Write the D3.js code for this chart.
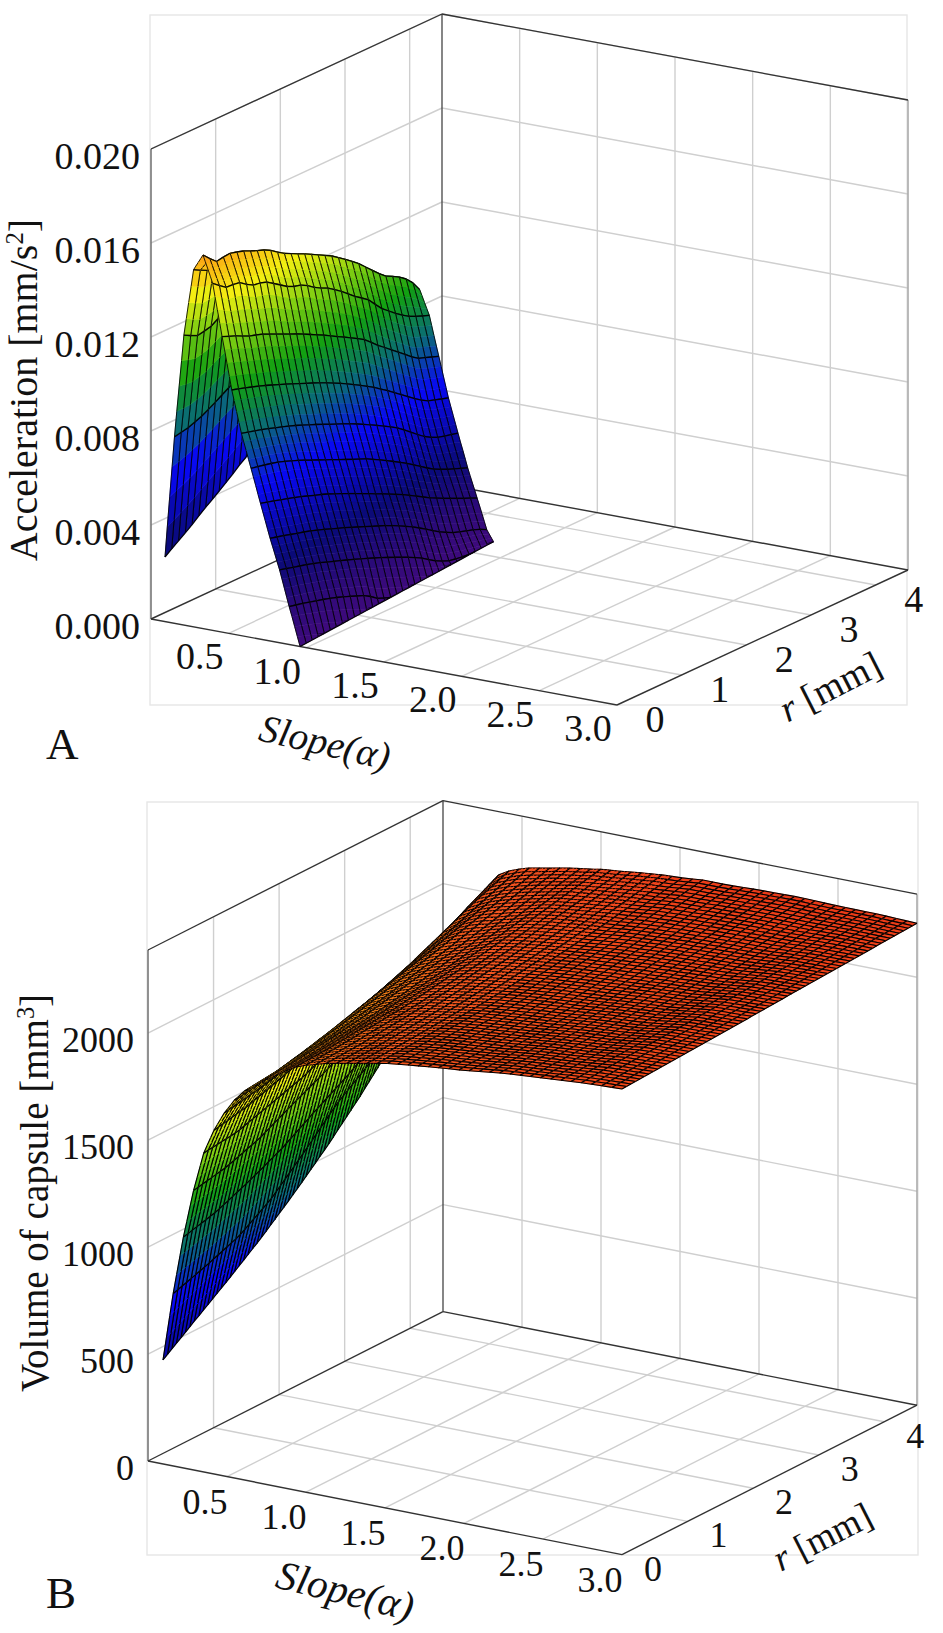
<!DOCTYPE html>
<html><head><meta charset="utf-8">
<script src="https://cdn.jsdelivr.net/npm/d3@7/dist/d3.min.js"></script>
<style>html,body{margin:0;padding:0;background:#fff}svg{display:block}
text{font-family:"Liberation Serif","Times New Roman",serif;fill:#111}</style></head>
<body><svg id="c" width="943" height="1633"></svg>
<script>
// ---------- Panel A: acceleration (x 10^-3 mm/s^2), rows = slope, columns = r ----------
const alphaA = [0.09,0.151,0.212,0.274,0.335,0.397,0.458,0.520,0.582,0.644,0.705,0.767,0.828,0.890];
const radiusA = [0,0.2,0.4,0.6,0.8,1,1.2,1.4,1.6,1.8,2,2.2,2.4,2.6,2.8,3,3.2,3.35];
const edgeAlphaA = [0.96,0.951,0.942,0.933,0.924,0.915,0.906,0.897,0.888,0.879,0.870,0.861,0.852,0.843,0.834,0.825,0.816,0.81];
const accelA = [
[2.75,3.15,3.55,4.0,4.4,4.83,5.3,5.65,6.0,6.3,6.6,6.9,7.2,7.45,7.7,7.9,8.1,8.2],
[7.94,8.05,8.25,8.55,8.9,9.2,9.5,9.8,10.0,10.2,10.4,10.5,10.5,10.2,9.8,9.4,9.0,8.6],
[12.34,12.05,12.15,12.5,12.7,12.8,12.8,12.7,12.5,12.3,12.0,11.6,11.2,10.8,10.4,10.1,9.8,9.5],
[15.2,14.9,14.9,14.9,14.7,14.4,14.1,13.9,13.6,13.3,13.0,12.6,12.2,11.7,11.2,10.8,10.5,10.0],
[15.9,15.35,15.45,15.3,15.05,14.85,14.45,14.16,13.9,13.6,13.3,12.9,12.48,11.95,11.43,11.15,10.75,10.15],
[14.77,14.33,14.3,13.9,13.82,13.45,13.07,12.93,12.53,12.26,11.87,11.4,11.02,10.39,9.94,9.53,9.28,9.13],
[12.57,12.35,12.08,11.91,11.66,11.40,11.16,10.87,10.59,10.27,9.97,9.64,9.15,8.71,8.27,7.81,7.61,7.46],
[10.38,10.21,10.03,9.82,9.60,9.37,9.14,8.90,8.63,8.34,8.02,7.68,7.29,6.88,6.45,6.08,5.89,5.77],
[8.61,8.46,8.29,8.11,7.92,7.69,7.46,7.21,6.97,6.71,6.42,6.11,5.79,5.36,4.91,4.59,4.44,4.34],
[7.20,7.08,6.94,6.75,6.52,6.27,6.03,5.78,5.54,5.30,5.00,4.68,4.35,3.97,3.59,3.32,3.10,2.94],
[5.78,5.63,5.46,5.29,5.09,4.90,4.66,4.41,4.15,3.89,3.62,3.34,3.03,2.70,2.42,2.16,1.91,1.73],
[4.37,4.22,4.06,3.91,3.72,3.51,3.30,3.07,2.84,2.61,2.35,2.05,1.70,1.33,1.03,0.84,0.67,0.46],
[3.10,2.95,2.80,2.63,2.43,2.23,2.03,1.81,1.58,1.34,1.08,0.79,0.42,0.15,0.05,null,null,null],
[1.61,1.49,1.34,1.19,1.00,0.78,0.55,0.15,null,null,null,null,null,null,null,null,null,null]];

// ---------- Panel B: capsule volume (mm^3), rows = slope, columns = r ----------
const alphaB = [0.095,0.16,0.224,0.289,0.353,0.418,0.482,0.547,0.611,0.676,0.74,0.805,0.869,0.934,1.0,1.13,1.26,1.39,1.52,1.65,1.8,2.0,2.25,2.5,2.75,3.0];
const radiusB = [0,0.5,1,1.5,2,2.5,3,3.5,4,4.5];
const volumeB = [
[486,598,708,825,955,1095,1250,1420,1595,1770],
[808,860,920,1020,1160,1308,1420,1560,1720,1880],
[1079,1120,1185,1260,1355,1445,1550,1650,1755,1860],
[1308,1340,1395,1475,1550,1640,1730,1830,1930,2026],
[1491,1510,1560,1610,1680,1750,1830,1920,2010,2092],
[1607,1640,1690,1745,1800,1860,1920,1990,2060,2120],
[1696,1725,1765,1810,1860,1910,1965,2020,2080,2138],
[1766,1790,1825,1865,1910,1955,2000,2050,2100,2153],
[1818,1835,1865,1900,1940,1980,2025,2070,2115,2162],
[1850,1868,1895,1925,1960,2000,2040,2085,2128,2171],
[1888,1905,1925,1950,1985,2020,2055,2095,2140,2181],
[1916,1930,1950,1970,2000,2035,2070,2110,2150,2190],
[1949,1960,1975,1995,2020,2050,2085,2120,2160,2197],
[1977,1985,2000,2015,2040,2070,2100,2135,2170,2204],
[1995,2005,2020,2035,2060,2085,2115,2145,2180,2213],
[2023,2030,2045,2060,2080,2105,2130,2160,2190,2222],
[2042,2050,2062,2075,2095,2118,2142,2170,2200,2234],
[2061,2068,2078,2090,2108,2130,2153,2180,2210,2243],
[2079,2085,2095,2105,2120,2140,2162,2188,2218,2248],
[2091,2097,2105,2115,2130,2150,2172,2198,2228,2257],
[2103,2108,2115,2125,2140,2158,2180,2205,2232,2256],
[2117,2122,2128,2137,2150,2168,2190,2212,2238,2262],
[2140,2144,2148,2155,2165,2180,2198,2218,2242,2265],
[2154,2158,2162,2168,2178,2190,2205,2222,2242,2260],
[2168,2177,2186,2194,2203,2212,2222,2232,2246,2259],
[2176,2184,2192,2200,2209,2218,2227,2235,2244,2252]];

// ---------- tick labels ----------
const slopeTicks = [0.5,1.0,1.5,2.0,2.5,3.0];
const radiusTicks = [0,1,2,3,4];
const accelTicks = [0,4,8,12,16,20];
const accelTickLabels = ["0.000","0.004","0.008","0.012","0.016","0.020"];
const volumeTicks = [0,500,1000,1500,2000];
const volumeTickLabels = ["0","500","1000","1500","2000"];

const colorStops = [0,0.08,0.17,0.32,0.42,0.52,0.62,0.70,0.78,0.86,0.94,1];
const colorRange = ["#3f0a7c","#2a0a78","#0a0a78","#0808f4","#0a6a78","#12a012","#84d012","#f4f012","#fba814","#f2581c","#ee3f18","#cc1010"];
const colormap = d3.scaleLinear().domain(colorStops).range(colorRange).clamp(true);

const svg = d3.select("#c");

function bilinearSampler(alphas, radii, table, edges){
  const cols = radii.map((_,j)=>{
    const xs=[],zs=[];
    alphas.forEach((a,i)=>{ if(table[i][j]!=null){xs.push(a);zs.push(table[i][j]);} });
    if(edges){xs.push(edges[j]);zs.push(0);}
    return {xs,zs};
  });
  const evalCol=(c,a)=>{
    if(a<=c.xs[0]) return c.zs[0];
    if(a>=c.xs[c.xs.length-1]) return c.zs[c.zs.length-1];
    const k=d3.bisectRight(c.xs,a);
    const t=(a-c.xs[k-1])/(c.xs[k]-c.xs[k-1]);
    return c.zs[k-1]+t*(c.zs[k]-c.zs[k-1]);
  };
  return (a,r)=>{
    let j=Math.min(d3.bisectRight(radii,r)-1,radii.length-2); if(j<0) j=0;
    const t=(r-radii[j])/(radii[j+1]-radii[j]);
    return (1-t)*evalCol(cols[j],a)+t*evalCol(cols[j+1],a);
  };
}

function drawPanel(cfg){
  const g = svg.append("g");
  const {O,ax,ay,rx,ry,zh,zMax,rMax} = cfg;
  const aX=d3.scaleLinear([0,3],[0,ax]), aY=d3.scaleLinear([0,3],[0,ay]);
  const rX=d3.scaleLinear([0,4.5],[0,rx]), rY=d3.scaleLinear([0,4.5],[0,ry]);
  const zH=d3.scaleLinear([0,zMax],[0,zh]);
  const P=(a,r,z)=>[O[0]+aX(a)+rX(r), O[1]+aY(a)+rY(r)-zH(z)];
  const line=(p,q,stroke,w)=>g.append("line").attr("x1",p[0]).attr("y1",p[1]).attr("x2",q[0]).attr("y2",q[1]).attr("stroke",stroke).attr("stroke-width",w);
  const grid="#cfcfcf", gw=1.4;
  g.append("rect").attr("x",cfg.frame[0]).attr("y",cfg.frame[1]).attr("width",cfg.frame[2]-cfg.frame[0]).attr("height",cfg.frame[3]-cfg.frame[1]).attr("fill","none").attr("stroke","#e6e6e6").attr("stroke-width",1.4);
  slopeTicks.slice(0,-1).forEach(a=>line(P(a,0,0),P(a,4.5,0),grid,gw));
  radiusTicks.slice(1).forEach(r=>line(P(0,r,0),P(3,r,0),grid,gw));
  radiusTicks.slice(1).forEach(r=>line(P(0,r,0),P(0,r,zMax),grid,gw));
  slopeTicks.slice(0,-1).forEach(a=>line(P(a,4.5,0),P(a,4.5,zMax),grid,gw));
  cfg.zTicks.slice(1).forEach(z=>{ line(P(0,0,z),P(0,4.5,z),grid,gw); line(P(0,4.5,z),P(3,4.5,z),grid,gw); });
  line(P(0,0,0),P(0,0,zMax),"#777",1.6);
  line(P(0,4.5,0),P(0,4.5,zMax),"#444",1.3);
  line(P(3,4.5,0),P(3,4.5,zMax),"#aaa",1.6);
  [[0,0,3,0],[3,0,3,4.5],[0,0,0,4.5],[0,4.5,3,4.5]].forEach(s=>line(P(s[0],s[1],0),P(s[2],s[3],0),"#333",1.4));
  line(P(0,0,zMax),P(0,4.5,zMax),"#333",1.3);
  line(P(0,4.5,zMax),P(3,4.5,zMax),"#333",1.3);

  const sampler=bilinearSampler(cfg.alphas,cfg.radii,cfg.table,cfg.edges);
  const edgeAt=cfg.edges?d3.scaleLinear(cfg.radii,cfg.edges):(()=>Infinity);
  const rs=d3.range(cfg.nR+1).map(i=>rMax*i/cfg.nR);
  const as=[];
  cfg.mesh.forEach((a,i)=>{
    const n=i<cfg.mesh.length-1?(a<cfg.fineBelow?cfg.sub:1):1;
    for(let k=0;k<n;k++){
      const next=i<cfg.mesh.length-1?cfg.mesh[i+1]:a;
      as.push({a:a+(next-a)*k/n,row:k===0});
    }
  });
  const V=(a,r)=>{
    const e=edgeAt(r);
    if(a>=e) return {a:e,z:0,p:P(e,r,0)};
    const z=sampler(a,r);
    return {a,z,p:P(a,r,z)};
  };
  const surf=g.append("g");
  const fmt=p=>p[0].toFixed(1)+","+p[1].toFixed(1);
  const items=[];
  for(let i=0;i<as.length-1;i++){
    for(let j=rs.length-2;j>=0;j--){
      const v00=V(as[i].a,rs[j]),v10=V(as[i+1].a,rs[j]),v11=V(as[i+1].a,rs[j+1]),v01=V(as[i].a,rs[j+1]);
      if(v00.a>=v10.a-1e-9&&v01.a>=v11.a-1e-9) continue;
      const zm=(v00.z+v10.z+v11.z+v01.z)/4;
      let lines=`M${fmt(v00.p)}L${fmt(v10.p)}M${fmt(v01.p)}L${fmt(v11.p)}`;
      let rows="";
      if(as[i].row) rows+=`M${fmt(v00.p)}L${fmt(v01.p)}`;
      if(as[i+1].row||v10.z===0||v11.z===0) rows+=`M${fmt(v10.p)}L${fmt(v11.p)}`;
      items.push({d:`M${fmt(v00.p)}L${fmt(v10.p)}L${fmt(v11.p)}L${fmt(v01.p)}Z`,c:colormap(zm/cfg.colorMax),lines,rows});
    }
  }
  const sel=surf.selectAll("g").data(items).join("g");
  sel.append("path").attr("d",d=>d.d).attr("fill",d=>d.c).attr("stroke",d=>d.c).attr("stroke-width",0.6);
  sel.append("path").attr("d",d=>d.lines).attr("fill","none").attr("stroke",cfg.lineColor).attr("stroke-width",cfg.lineW);
  sel.filter(d=>d.rows).append("path").attr("d",d=>d.rows).attr("fill","none").attr("stroke",cfg.rowColor).attr("stroke-width",cfg.rowW);

  const T=(s,x,y,anchor,size,style)=>g.append("text").attr("x",x).attr("y",y).attr("text-anchor",anchor).attr("font-size",size).attr("font-style",style||null).text(s);
  cfg.zTicks.forEach((z,i)=>{ const p=P(0,0,z); T(cfg.zLabels[i],cfg.zLabelX,p[1]+cfg.zLabelDy,"end",cfg.fs); });
  slopeTicks.forEach(a=>{ const p=P(a,0,0); T(a.toFixed(1),p[0]+cfg.aLab[0],p[1]+cfg.aLab[1],"middle",cfg.fs); });
  radiusTicks.forEach(r=>{ const p=P(3,r,0); T(String(r),p[0]+cfg.rLab[0],p[1]+cfg.rLab[1],"middle",cfg.fs); });
  const yt=g.append("text").attr("transform",`translate(${cfg.yTitle[0]},${cfg.yTitle[1]}) rotate(-90)`).attr("text-anchor","middle").attr("font-size",cfg.yTitle[2]);
  yt.append("tspan").text(cfg.yTitleText);
  yt.append("tspan").attr("dy",-14).attr("font-size",cfg.yTitle[2]*0.62).text(cfg.ySup);
  yt.append("tspan").attr("dy",14).text("]");
  g.append("text").attr("transform",`translate(${cfg.xTitle[0]},${cfg.xTitle[1]}) rotate(${cfg.xTitle[2]})`).attr("text-anchor","middle").attr("font-size",cfg.xTitle[3]).attr("font-style","italic").text("Slope(α)");
  const rt=g.append("text").attr("transform",`translate(${cfg.rTitle[0]},${cfg.rTitle[1]}) rotate(${cfg.rTitle[2]})`).attr("text-anchor","middle").attr("font-size",cfg.rTitle[3]);
  rt.append("tspan").attr("font-style","italic").text("r");
  rt.append("tspan").text(" [mm]");
  T(cfg.letter,cfg.letterPos[0],cfg.letterPos[1],"start",45);
}

drawPanel({O:[151,619],ax:466,ay:86,rx:291,ry:-135,zh:470,zMax:20,rMax:3.35,colorMax:20,
  frame:[150,15,907,705],zTicks:accelTicks,zLabels:accelTickLabels,zLabelX:140,zLabelDy:20,fs:38,
  aLab:[-29,36],rLab:[38,27],
  yTitle:[37,390,40],yTitleText:"Acceleration [mm/s",ySup:"2",
  xTitle:[322,755,13,39],rTitle:[836,698,-27,38],letter:"A",letterPos:[46,759],
  alphas:alphaA,radii:radiusA,table:accelA,edges:edgeAlphaA,
  mesh:alphaA.concat([0.96]),fineBelow:2,sub:4,nR:32,
  lineColor:"rgba(0,0,0,0.85)",lineW:1.0,rowColor:"rgba(0,0,0,0.95)",rowW:1.3});

drawPanel({O:[148,1461],ax:474,ay:93.6,rx:295,ry:-149.4,zh:511,zMax:2388,rMax:4.5,colorMax:2388,
  frame:[147,802,918,1555],zTicks:volumeTicks,zLabels:volumeTickLabels,zLabelX:134,zLabelDy:19,fs:36,
  aLab:[-22,37],rLab:[31,26],
  yTitle:[48,1193,39],yTitleText:"Volume of capsule [mm",ySup:"3",
  xTitle:[342,1604,14,41],rTitle:[828,1548,-27,37],letter:"B",letterPos:[46,1608],
  alphas:alphaB,radii:radiusB,table:volumeB,edges:null,
  mesh:d3.range(46).map(k=>0.095+k*2.905/45),fineBelow:1.4,sub:3,nR:66,
  lineColor:"#000",lineW:1.15,rowColor:"#000",rowW:1.15});
</script></body></html>
